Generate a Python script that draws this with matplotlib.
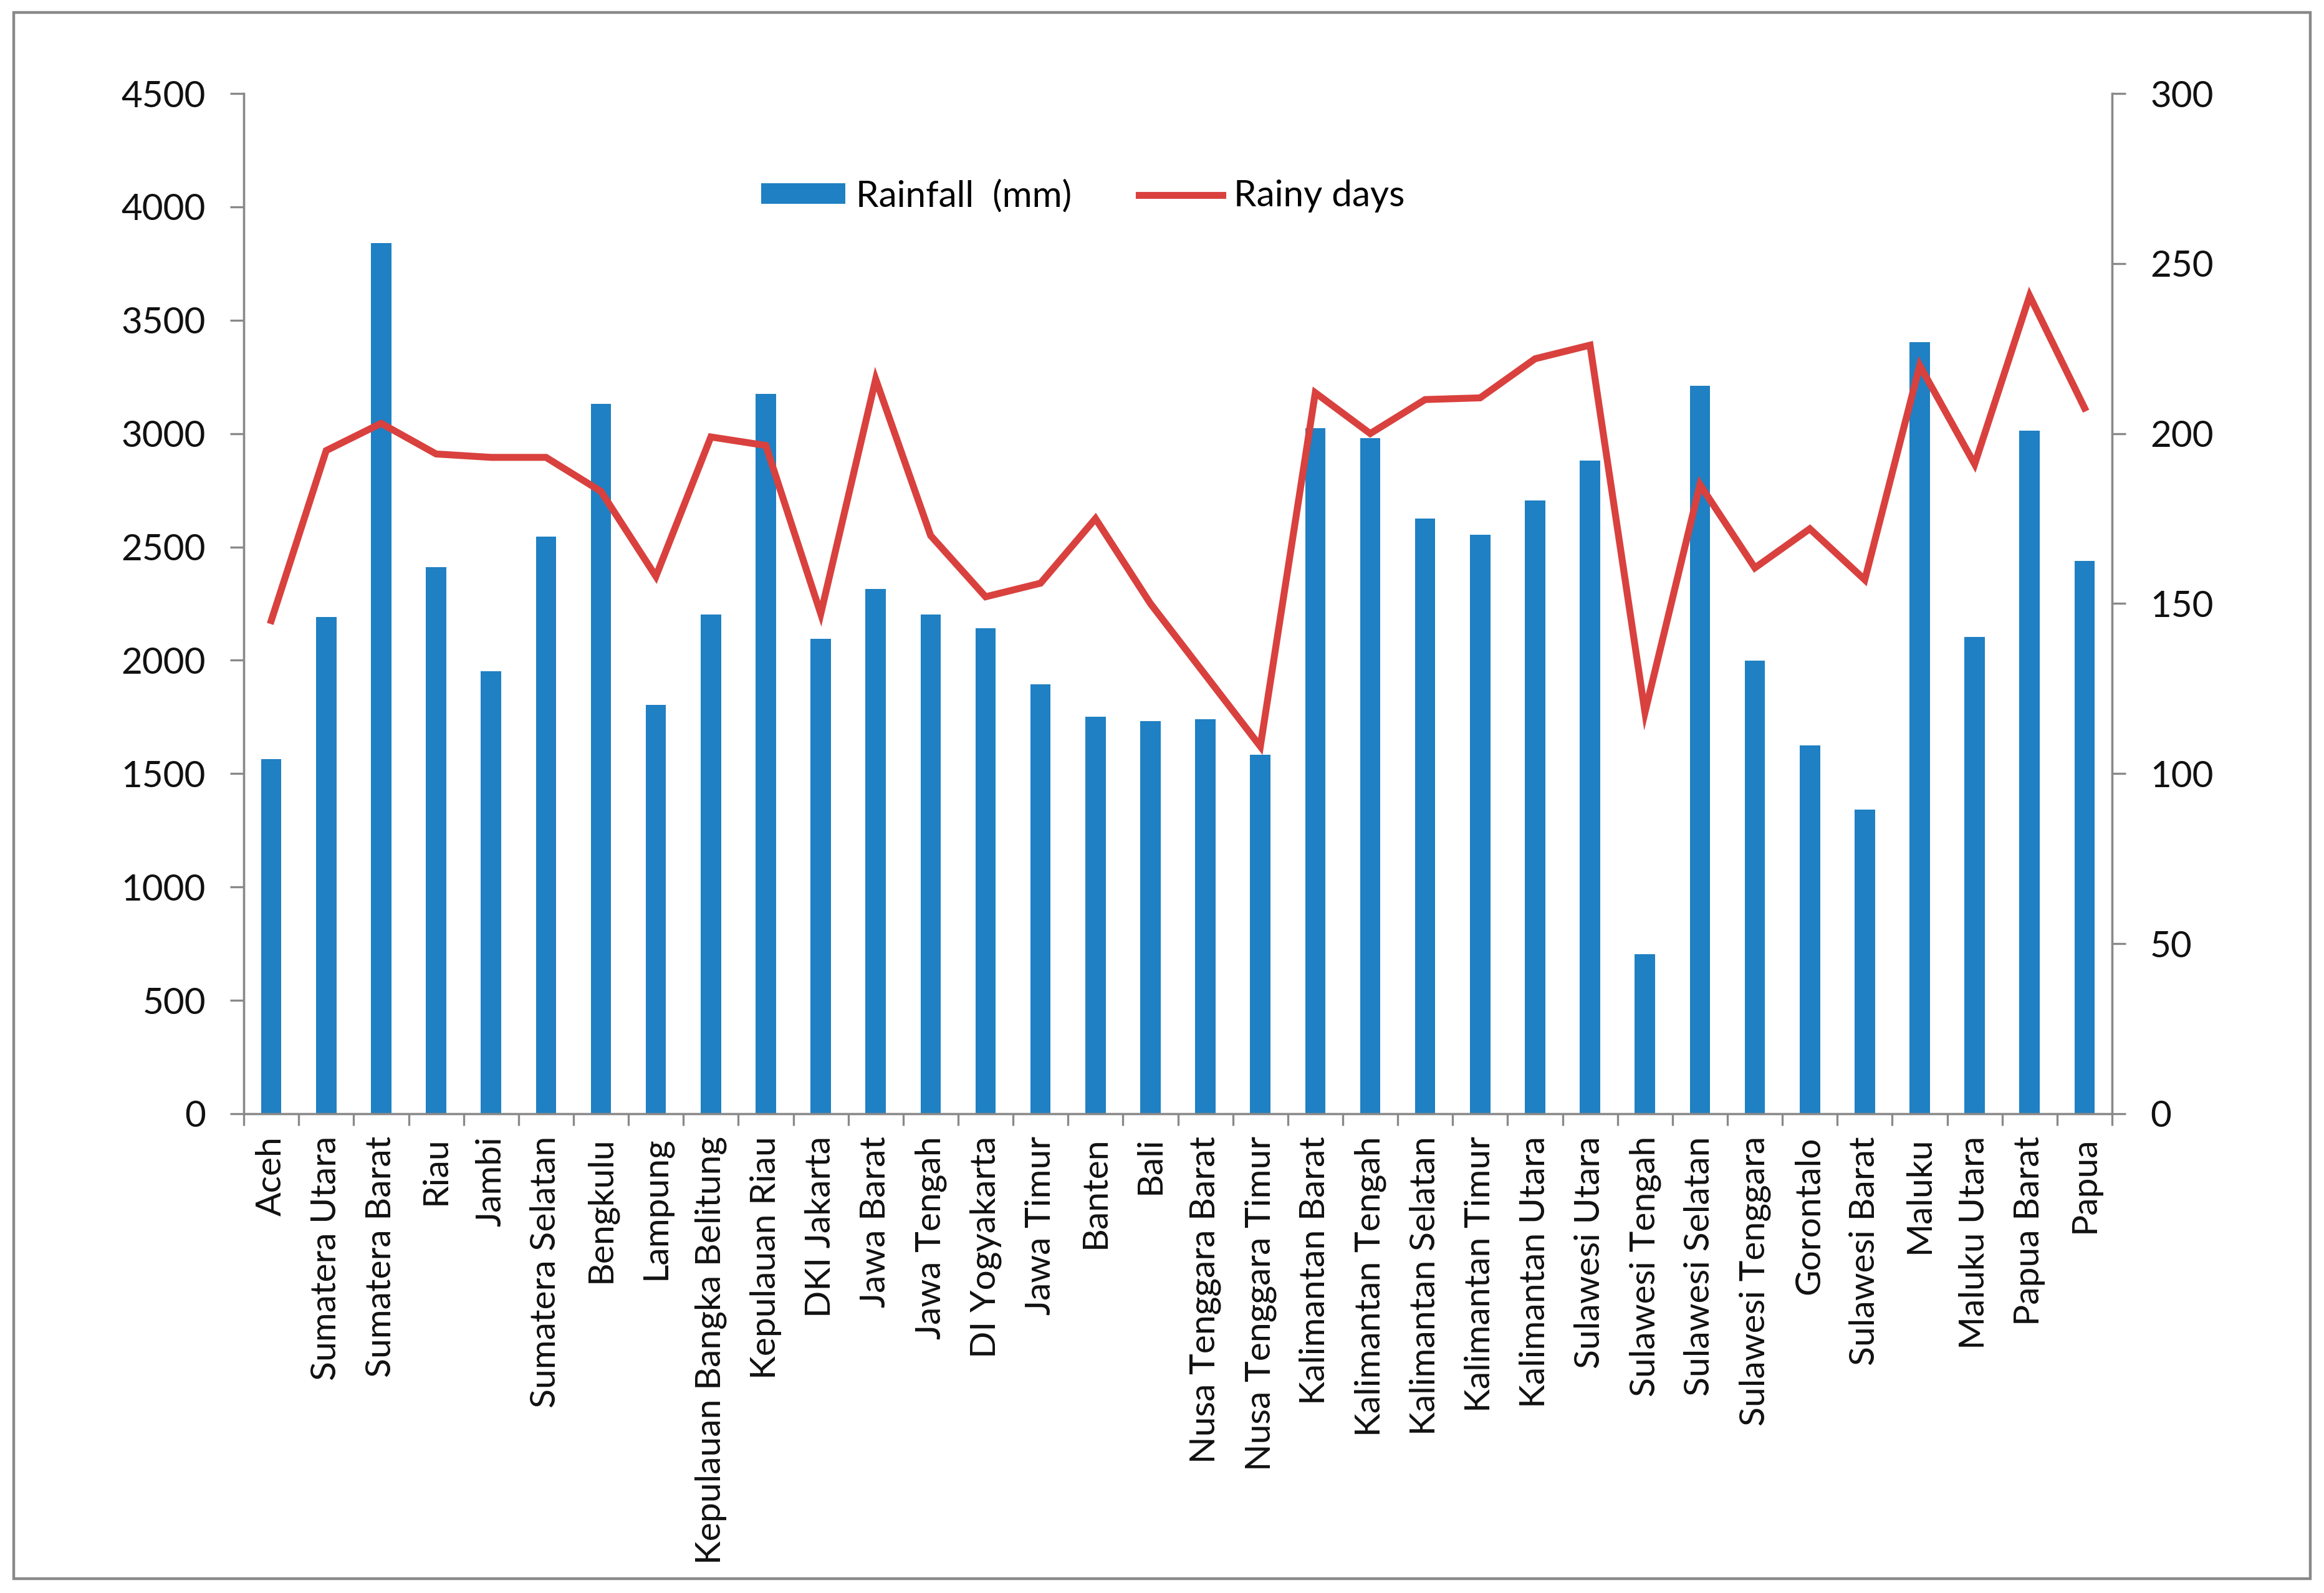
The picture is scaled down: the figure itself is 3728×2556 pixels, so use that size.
import matplotlib.pyplot as plt
from matplotlib.patches import Rectangle
import numpy as np

provinces = [
    "Aceh", "Sumatera Utara", "Sumatera Barat", "Riau", "Jambi",
    "Sumatera Selatan", "Bengkulu", "Lampung", "Kepulauan Bangka Belitung",
    "Kepulauan Riau", "DKI Jakarta", "Jawa Barat", "Jawa Tengah",
    "DI Yogyakarta", "Jawa Timur", "Banten", "Bali", "Nusa Tenggara Barat",
    "Nusa Tenggara Timur", "Kalimantan Barat", "Kalimantan Tengah",
    "Kalimantan Selatan", "Kalimantan Timur", "Kalimantan Utara",
    "Sulawesi Utara", "Sulawesi Tengah", "Sulawesi Selatan",
    "Sulawesi Tenggara", "Gorontalo", "Sulawesi Barat", "Maluku",
    "Maluku Utara", "Papua Barat", "Papua",
]
rainfall_mm = [
    1563, 2192, 3839, 2412, 1952, 2545, 3132, 1803, 2202, 3174,
    2095, 2315, 2202, 2140, 1894, 1751, 1732, 1741, 1582, 3025,
    2980, 2626, 2554, 2704, 2882, 703, 3210, 1997, 1624, 1342,
    3404, 2104, 3012, 2438,
]
rainy_days = [
    145, 195, 203, 194, 193, 193, 183, 158, 199, 196.5,
    147, 216, 170, 152, 156, 175, 150, 129, 108, 212,
    200, 210, 210.5, 222, 226, 118, 185, 160.5, 172, 157,
    220, 191, 240.5, 207.5,
]

BLUE = "#1f80c3"
RED = "#d9413e"
GRAY = "#898989"

plt.rcParams["font.family"] = ["Lato", "DejaVu Sans"]

fig = plt.figure(figsize=(18.64, 12.78), dpi=200)
ax = fig.add_axes([0.1049, 0.3009, 0.8039, 0.6404])
ax2 = ax.twinx()

x = np.arange(len(provinces))
bars = ax.bar(x, rainfall_mm, width=0.37, color=BLUE, zorder=2)
line, = ax2.plot(x, rainy_days, color=RED, linewidth=4.0,
                 solid_joinstyle="miter", zorder=3)

ax.set_xlim(-0.5, len(provinces) - 0.5)
ax.set_ylim(0, 4500)
ax.set_yticks(np.arange(0, 4501, 500))
ax2.set_ylim(0, 300)
ax2.set_yticks(np.arange(0, 301, 50))

# category labels centred, tick marks between categories
ax.set_xticks(x)
ax.set_xticklabels(provinces, rotation=90, fontsize=20.5, color="#111111")
ax.set_xticks(np.arange(-0.5, len(provinces)), minor=True)
ax.tick_params(axis="x", which="major", length=0, pad=13)
ax.tick_params(axis="x", which="minor", length=7, width=1.2,
               color=GRAY, direction="out")

ax.tick_params(axis="y", length=8, width=1.2, color=GRAY, pad=14,
               labelsize=21, labelcolor="#111111")
ax2.tick_params(axis="y", length=8, width=1.2, color=GRAY, pad=14,
                labelsize=21, labelcolor="#111111")

for a in (ax, ax2):
    a.spines["top"].set_visible(False)
    for side in ("left", "right", "bottom"):
        a.spines[side].set_color(GRAY)
        a.spines[side].set_linewidth(1.2)
ax.set_zorder(ax2.get_zorder() - 1)
ax2.patch.set_visible(False)

fig.legend(
    [bars, line], ["Rainfall  (mm)", "Rainy days"],
    loc="center", bbox_to_anchor=(0.466, 0.877), ncol=2, frameon=False,
    fontsize=21, handlelength=2.3, handleheight=0.5, handletextpad=0.3,
    columnspacing=1.85,
)

# outer chart border
fig.patches.append(Rectangle((0.006, 0.009), 0.988, 0.983,
                             transform=fig.transFigure, fill=False,
                             edgecolor=GRAY, linewidth=1.6))

fig.savefig("out.png", dpi=200)
